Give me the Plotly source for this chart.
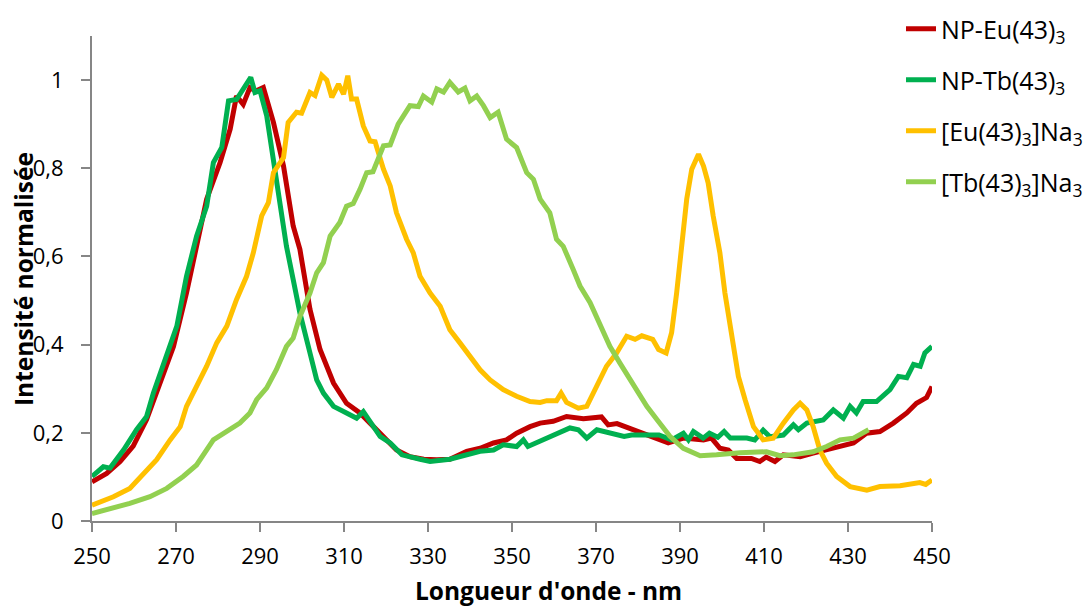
import plotly.graph_objects as go

# ---- data ----
np_eu_x = [250, 253.5, 256.7, 259.8, 263, 266.2, 269.4, 272.5, 274.9, 277.3, 280.5, 282.9, 284.4, 286,
           287.6, 289, 290.8, 293.2, 295.6, 297.9, 299.5, 301.9, 304.3, 307.5, 310.6, 313.8, 316.2, 319.4,
           322.5, 325.7, 329, 332.1, 335.2, 339.2, 342.4, 345.6, 348.7, 351.1, 354.3, 356.7, 359.8, 363,
           367, 371.3, 372.9, 375, 378.9, 383.7, 387.2, 390.8, 395.6, 397.5, 399.5, 401.5, 403.5, 407,
           409, 410.5, 412.6, 414.6, 418.6, 421.7, 424.9, 428.1, 431.3, 434.4, 437.6, 440.8, 444, 446.3,
           448.7, 450]
np_eu_y = [0.089, 0.108, 0.135, 0.170, 0.230, 0.313, 0.396, 0.517, 0.623, 0.730, 0.813, 0.889, 0.964, 0.945,
           0.983, 0.975, 0.983, 0.904, 0.805, 0.669, 0.616, 0.480, 0.389, 0.313, 0.267, 0.245, 0.222, 0.192,
           0.161, 0.146, 0.140, 0.139, 0.140, 0.158, 0.165, 0.177, 0.184, 0.199, 0.214, 0.222, 0.226, 0.237,
           0.232, 0.236, 0.218, 0.221, 0.207, 0.192, 0.177, 0.188, 0.184, 0.188, 0.165, 0.161, 0.142, 0.142,
           0.135, 0.145, 0.135, 0.150, 0.146, 0.154, 0.161, 0.169, 0.177, 0.199, 0.203, 0.222, 0.245, 0.267,
           0.280, 0.305]

np_tb_x = [250, 252.7, 254.3, 257.5, 260.6, 263, 264.6, 267, 270.2, 272.5, 274.9, 277.3, 278.9, 280.9,
           282.5, 284.4, 286, 287.8, 288.8, 290, 291.6, 293.2, 294.8, 296.3, 297.9, 299.5, 301.9, 303.5,
           305.1, 307.5, 310.6, 313, 314.6, 316.2, 318.6, 321, 323.8, 328.1, 330.5, 335.2, 339.2, 342.4,
           345.6, 347.9, 351.1, 352.7, 353.8, 358.3, 360.6, 363.8, 365.8, 367.8, 370.2, 373, 376.7, 378.5,
           383.7, 385, 388, 390.8, 392, 393.2, 395.5, 397, 399, 400.5, 402, 405.9, 407.8, 409.8, 411.4,
           414.6, 417, 418.2, 420.2, 424.1, 426.5, 428.9, 430.5, 432, 433.6, 436.8, 440, 442, 444, 445.6,
           447.2, 448.3, 450]
np_tb_y = [0.101, 0.123, 0.120, 0.161, 0.207, 0.237, 0.290, 0.358, 0.442, 0.555, 0.646, 0.714, 0.813, 0.847,
           0.953, 0.956, 0.980, 1.006, 0.972, 0.976, 0.919, 0.820, 0.730, 0.623, 0.548, 0.472, 0.381, 0.320,
           0.290, 0.260, 0.245, 0.233, 0.248, 0.226, 0.192, 0.177, 0.150, 0.140, 0.135, 0.140, 0.150, 0.158,
           0.161, 0.173, 0.169, 0.184, 0.169, 0.188, 0.199, 0.211, 0.207, 0.188, 0.207, 0.201, 0.192, 0.195,
           0.195, 0.195, 0.184, 0.199, 0.184, 0.203, 0.188, 0.199, 0.190, 0.203, 0.188, 0.188, 0.184, 0.206,
           0.191, 0.195, 0.218, 0.207, 0.222, 0.229, 0.252, 0.233, 0.260, 0.245, 0.271, 0.271, 0.298, 0.328,
           0.325, 0.355, 0.351, 0.381, 0.396]

eu_na_x = [250, 255.1, 259, 261.4, 265.4, 268.6, 271, 272.5, 274.9, 277.3, 279.7, 282.1, 284.4, 286.8,
           288.4, 290.4, 292, 293.2, 295.6, 296.7, 298.7, 299.9, 301.9, 303.1, 304.7, 305.9, 307.1, 308.7,
           309.9, 310.9, 311.8, 313, 314.6, 316.2, 317.4, 319.4, 321, 322.5, 324.9, 326.5, 328.1, 330.5,
           332.9, 335.2, 337.6, 340, 342.4, 344.8, 347.9, 351.1, 354.3, 356.7, 358.3, 360.6, 361.7, 363,
           365.8, 367.8, 370.2, 372.5, 374.9, 377.3, 379.3, 380.9, 383.5, 384.9, 386.7, 388, 389.2, 390.4,
           391.6, 392.8, 394.4, 395.6, 396.7, 397.9, 399.5, 400.7, 402.3, 403.9, 405.5, 407.5, 409.8, 412.2,
           414.6, 417, 418.6, 420.2, 421.7, 423.3, 424.9, 427.3, 430.5, 434.5, 437.6, 442.4, 447.1, 448.5,
           450]
eu_na_y = [0.036, 0.055, 0.074, 0.097, 0.139, 0.184, 0.214, 0.260, 0.305, 0.351, 0.404, 0.442, 0.502, 0.555,
           0.608, 0.692, 0.722, 0.790, 0.824, 0.904, 0.927, 0.925, 0.972, 0.965, 1.011, 1.000, 0.961, 0.991,
           0.968, 1.010, 0.957, 0.957, 0.896, 0.862, 0.860, 0.798, 0.760, 0.699, 0.639, 0.608, 0.555, 0.517,
           0.487, 0.434, 0.404, 0.373, 0.343, 0.320, 0.298, 0.283, 0.271, 0.269, 0.273, 0.273, 0.290, 0.269,
           0.256, 0.260, 0.305, 0.351, 0.381, 0.419, 0.412, 0.420, 0.412, 0.389, 0.381, 0.427, 0.517, 0.631,
           0.730, 0.798, 0.832, 0.805, 0.767, 0.692, 0.608, 0.517, 0.427, 0.328, 0.275, 0.214, 0.184, 0.188,
           0.222, 0.252, 0.267, 0.252, 0.214, 0.161, 0.131, 0.101, 0.078, 0.070, 0.078, 0.080, 0.087, 0.083,
           0.093]

tb_na_x = [250, 255.1, 259, 263.8, 267.8, 271.7, 274.9, 278.9, 282.9, 285.2, 287.6, 289.2, 291.6, 293.9,
           296.3, 297.9, 299.5, 301.9, 303.5, 305.1, 306.7, 309, 310.6, 312.2, 313.8, 315.4, 316.9, 319.4,
           321, 322.9, 325.7, 327.7, 328.9, 330.9, 332.1, 333.7, 335.2, 337.2, 338.8, 340, 341.6, 343.2,
           344.8, 346.7, 348.7, 351.1, 353.5, 355.1, 356.7, 359, 360.6, 362.2, 364.6, 366.2, 368.6, 371,
           373.3, 375.7, 378.1, 379.7, 382.1, 384.5, 387.6, 390.8, 394.8, 398.7, 404.3, 410.6, 413.8, 416.9,
           421.7, 424.9, 428.1, 431.3, 434.9]
tb_na_y = [0.017, 0.029, 0.040, 0.055, 0.074, 0.101, 0.127, 0.184, 0.207, 0.222, 0.245, 0.275, 0.302, 0.343,
           0.396, 0.415, 0.464, 0.517, 0.563, 0.586, 0.646, 0.677, 0.714, 0.720, 0.752, 0.790, 0.792, 0.851,
           0.853, 0.900, 0.942, 0.940, 0.964, 0.950, 0.980, 0.973, 0.995, 0.973, 0.982, 0.953, 0.964, 0.942,
           0.915, 0.927, 0.866, 0.847, 0.790, 0.775, 0.730, 0.699, 0.639, 0.623, 0.570, 0.533, 0.495, 0.442,
           0.396, 0.358, 0.320, 0.298, 0.260, 0.230, 0.192, 0.165, 0.148, 0.150, 0.155, 0.157, 0.148, 0.150,
           0.157, 0.169, 0.184, 0.188, 0.207]

series_names = ["NP-Eu(43)<sub>3</sub>", "NP-Tb(43)<sub>3</sub>",
                "[Eu(43)<sub>3</sub>]Na<sub>3</sub>", "[Tb(43)<sub>3</sub>]Na<sub>3</sub>"]
series_colors = ["#C00000", "#00B050", "#FFC000", "#92D050"]
series_x = [np_eu_x, np_tb_x, eu_na_x, tb_na_x]
series_y = [np_eu_y, np_tb_y, eu_na_y, tb_na_y]

x_ticks = list(range(250, 451, 20))
y_ticks = [0, 0.2, 0.4, 0.6, 0.8, 1]
y_ticktext = ["0", "0,2", "0,4", "0,6", "0,8", "1"]

FONT = "Open Sans, Lato, Noto Sans, sans-serif"
AXIS_COLOR = "#868686"

fig = go.Figure()
for i, (name, color, xs, ys) in enumerate(zip(series_names, series_colors, series_x, series_y)):
    fig.add_trace(go.Scatter(x=xs, y=ys, mode="lines", name=name, legendgroup=f"g{i}",
                             line=dict(color=color, width=5)))

W, H = 1085, 607
ML, MR, MT, MB = 92, 153, 36, 86
pw, ph = W - ML - MR, H - MT - MB

fig.update_layout(
    width=W, height=H,
    margin=dict(l=ML, r=MR, t=MT, b=MB, pad=0, autoexpand=False),
    paper_bgcolor="white", plot_bgcolor="white",
    separators=", ",
    font=dict(family=FONT, size=23, color="#000000"),
    showlegend=True,
    legend=dict(xref="container", yref="container", x=901 / W, xanchor="left",
                y=1 - 6 / H, yanchor="top", font=dict(family=FONT, size=25, color="#000000"),
                tracegroupgap=15.5, bgcolor="rgba(0,0,0,0)", itemwidth=30),
    xaxis=dict(range=[250, 450], tickmode="array", tickvals=x_ticks,
               ticks="outside", ticklen=9, tickwidth=1.5, tickcolor=AXIS_COLOR,
               showline=True, linecolor=AXIS_COLOR, linewidth=2, showgrid=False, zeroline=False,
               tickfont=dict(family=FONT, size=22), ticklabelstandoff=6, automargin=False),
    yaxis=dict(range=[0, 1.1], tickmode="array", tickvals=y_ticks, ticktext=y_ticktext,
               ticks="outside", ticklen=9, tickwidth=1.5, tickcolor=AXIS_COLOR,
               showline=True, linecolor=AXIS_COLOR, linewidth=2, showgrid=False, zeroline=False,
               tickfont=dict(family=FONT, size=22), ticklabelstandoff=13, automargin=False),
    annotations=[
        dict(text="<b>Longueur d'onde - nm</b>", xref="paper", yref="paper",
             x=(548 - ML) / pw, y=(521 - 590) / ph, xanchor="center", yanchor="middle",
             showarrow=False, font=dict(family=FONT, size=24.5)),
        dict(text="<b>Intensité normalisée</b>", xref="paper", yref="paper",
             x=(23 - ML) / pw, y=(521 - 279) / ph, xanchor="center", yanchor="middle",
             textangle=-90, showarrow=False, font=dict(family=FONT, size=24.5)),
    ],
)

fig.write_html("out.html", config={"displayModeBar": False},
               post_script="document.body.style.margin='0';document.body.style.padding='0';")
